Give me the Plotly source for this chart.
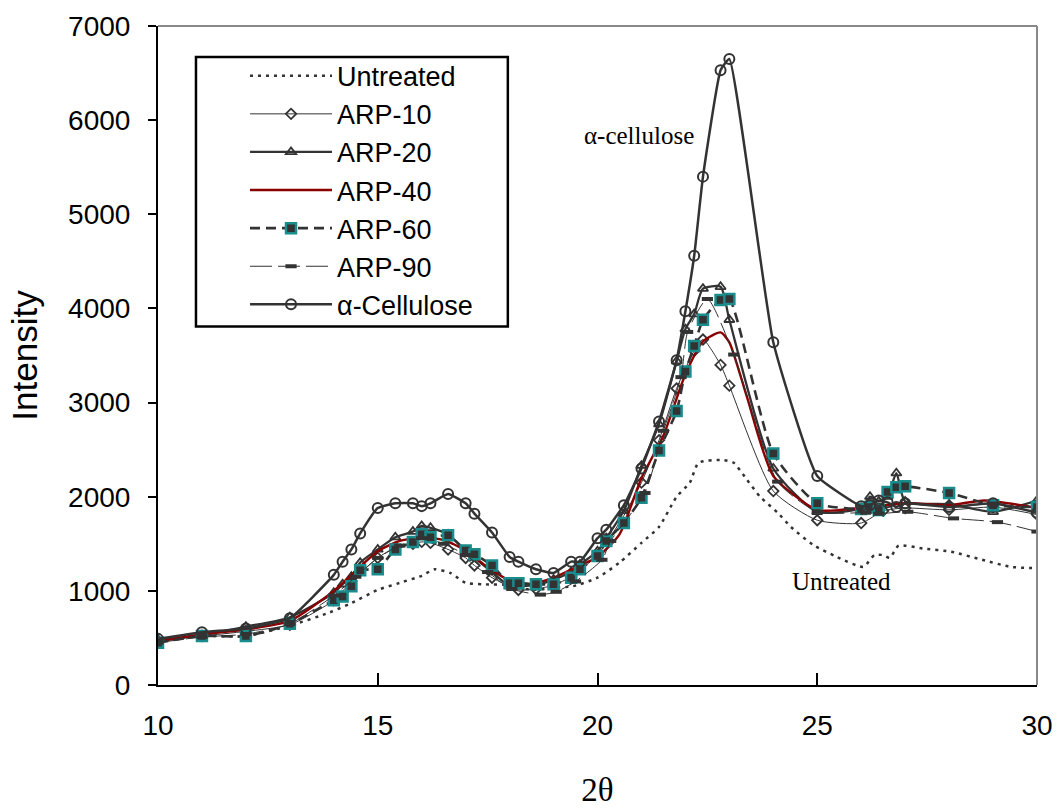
import plotly.graph_objects as go

# ---------------- data ----------------
untreated_x = [10, 11, 12, 13, 13.9, 14.4, 15, 15.5, 16, 16.3, 16.65, 17, 17.4, 18, 18.5, 19, 19.45, 20, 20.5, 21,
               21.4, 21.8, 22.1, 22.3, 22.85, 23.1, 23.4, 23.7, 24.1, 24.4, 24.9, 25.45, 26.05, 26.3, 26.5, 26.65,
               26.85, 27.4, 28.05, 28.75, 29.4, 30]
untreated_y = [470, 520, 520, 630, 770, 870, 1010, 1085, 1160, 1230, 1190, 1085, 1070, 1060, 1010, 1030, 1050, 1140,
               1300, 1510, 1680, 2000, 2150, 2360, 2390, 2360, 2180, 2000, 1830, 1680, 1490, 1360, 1255, 1380, 1380,
               1350, 1480, 1450, 1415, 1330, 1255, 1240]

arp10_x = [10, 11, 12, 13, 14, 14.4, 15, 15.4, 15.8, 16.0, 16.2, 16.6, 17.0, 17.2, 17.6, 18.2, 18.6, 19.0, 19.4, 20.0,
           20.6, 21.0, 21.4, 21.8, 22.2, 22.4, 22.8, 23.0, 24.0, 25.0, 26.0, 26.5, 27.0, 28.0, 29.0, 30.0]
arp10_y = [470, 520, 570, 640, 900, 1100, 1350, 1460, 1500, 1520, 1510, 1440, 1350, 1270, 1140, 1010, 1020, 1060, 1150,
           1380, 1800, 2150, 2600, 3150, 3550, 3670, 3400, 3180, 2060, 1750, 1720, 1850, 1880, 1860, 1890, 1810]

arp20_x = [10, 11, 12, 13, 14, 14.2, 14.4, 14.6, 15.0, 15.4, 15.8, 16.0, 16.2, 16.6, 17.0, 17.2, 17.6, 18.0, 18.2, 18.6,
           19.0, 19.4, 19.6, 20.0, 20.2, 20.6, 21.0, 21.4, 21.8, 22.0, 22.2, 22.4, 22.8, 23.0, 24.0, 25.0, 26.0, 26.2,
           26.4, 26.6, 26.8, 27.0, 28.0, 29.0, 30.0]
arp20_y = [480, 530, 620, 720, 980, 1070, 1150, 1300, 1440, 1570, 1630, 1690, 1670, 1600, 1430, 1350, 1200, 1050, 1050,
           1060, 1120, 1200, 1280, 1420, 1560, 1850, 2330, 2770, 3440, 3780, 3940, 4210, 4230, 3880, 2300, 1840, 1880,
           2000, 1950, 2000, 2250, 1950, 1920, 1840, 1960]

arp40_x = [10, 11, 12, 13, 14, 15, 15.5, 16, 16.5, 17, 17.5, 18, 18.5, 19, 19.5, 20, 20.5, 21, 21.5, 22, 22.4, 22.8,
           23.0, 23.4, 24, 25, 26, 27, 28, 28.8, 30]
arp40_y = [460, 540, 590, 680, 1000, 1420, 1530, 1570, 1540, 1430, 1250, 1110, 1075, 1140, 1250, 1360, 1600, 2200, 2650,
           3300, 3650, 3745, 3640, 3060, 2220, 1860, 1880, 1930, 1910, 1960, 1880]

arp60_x = [10, 11, 12, 13, 14, 14.2, 14.4, 14.6, 15, 15.4, 15.8, 16, 16.2, 16.6, 17, 17.2, 17.6, 18, 18.2, 18.6, 19,
           19.4, 19.6, 20, 20.2, 20.6, 21, 21.4, 21.8, 22, 22.2, 22.4, 22.8, 23, 24, 25, 26, 26.2, 26.4, 26.6, 26.8, 27,
           28, 29, 30]
arp60_y = [450, 520, 520, 650, 900, 940, 1050, 1220, 1230, 1440, 1520, 1600, 1570, 1590, 1430, 1390, 1270, 1080, 1080,
           1070, 1070, 1140, 1230, 1370, 1530, 1720, 1990, 2490, 2910, 3330, 3600, 3880, 4090, 4100, 2460, 1930, 1870,
           1890, 1860, 2050, 2100, 2110, 2040, 1910, 1890]

arp90_x = [10, 11, 12, 13, 14, 14.5, 15, 15.5, 16, 16.5, 17, 17.5, 18.05, 18.7, 19.06, 19.5, 20.1, 20.3, 21.08, 21.5,
           21.9, 22.05, 22.5, 23.1, 24.1, 25, 26.1, 26.4, 27.06, 28.1, 29.1, 30]
arp90_y = [450, 510, 540, 650, 950, 1150, 1350, 1480, 1560, 1500, 1380, 1200, 1020, 960, 990, 1100, 1330, 1530, 2040,
           2700, 3270, 3750, 4100, 3510, 2160, 1840, 1830, 1820, 1840, 1770, 1730, 1630]

cell_x = [10, 11, 12, 13, 14.0, 14.2, 14.4, 14.6, 15.0, 15.4, 15.8, 16.0, 16.2, 16.6, 17.0, 17.2, 17.6, 18.0, 18.2,
          18.6, 19.0, 19.4, 19.6, 20.0, 20.2, 20.6, 21.0, 21.4, 21.8, 22.0, 22.2, 22.4, 22.8, 23.0, 24.0, 25.0, 26.0,
          26.2, 26.4, 26.6, 26.8, 27.0, 28.0, 29.0, 30.0]
cell_y = [490, 560, 600, 710, 1170, 1310, 1440, 1610, 1880, 1930, 1930, 1900, 1930, 2030, 1930, 1820, 1620, 1360, 1310,
          1230, 1190, 1310, 1310, 1560, 1650, 1910, 2300, 2800, 3450, 3970, 4560, 5400, 6530, 6650, 3640, 2220, 1900,
          1910, 1960, 1940, 1890, 1930, 1890, 1930, 1830]

x_ticks = [10, 15, 20, 25, 30]
y_ticks = [0, 1000, 2000, 3000, 4000, 5000, 6000, 7000]

DARK = "#333333"
TEAL = "#1a8c8c"

fig = go.Figure()

def add(name, xs, ys, line, marker=None, smoothing=0.6):
    fig.add_trace(go.Scatter(
        x=xs, y=ys, name=name,
        mode="lines+markers" if marker else "lines",
        line=dict(shape="spline", smoothing=smoothing, **line),
        marker=marker or {},
    ))

add("Untreated", untreated_x, untreated_y, dict(color=DARK, width=2.5, dash="3px,5px"))
add("ARP-10", arp10_x, arp10_y, dict(color=DARK, width=1),
    dict(symbol="diamond-open", size=8, color=DARK, line=dict(width=1.8, color=DARK)))
add("ARP-20", arp20_x, arp20_y, dict(color=DARK, width=2.3),
    dict(symbol="triangle-up-open", size=9, color=DARK, line=dict(width=1.8, color=DARK)))
add("ARP-40", arp40_x, arp40_y, dict(color="#8b0000", width=2.4))
add("ARP-60", arp60_x, arp60_y, dict(color=DARK, width=2.6, dash="10px,6px"),
    dict(symbol="square", size=10, color=DARK, line=dict(width=2.5, color=TEAL)))
add("ARP-90", arp90_x, arp90_y, dict(color=DARK, width=1, dash="22px,6px"),
    dict(symbol="line-ew", size=8, color=DARK, line=dict(width=4, color=DARK)))
add("α-Cellulose", cell_x, cell_y, dict(color=DARK, width=2.5),
    dict(symbol="circle-open", size=10, color=DARK, line=dict(width=2, color=DARK)), smoothing=0.4)

fig.add_annotation(x=20.95, y=5840, text="α-cellulose", showarrow=False,
                   font=dict(family="Liberation Serif", size=25, color="black"))
fig.add_annotation(x=25.55, y=1095, text="Untreated", showarrow=False,
                   font=dict(family="Liberation Serif", size=25, color="black"))

# gray top and right frame lines
fig.add_shape(type="line", xref="paper", yref="paper", x0=0, x1=1, y0=1, y1=1,
              line=dict(color="#888888", width=2))
fig.add_shape(type="line", xref="paper", yref="paper", x0=1, x1=1, y0=0, y1=1,
              line=dict(color="#888888", width=2))
# legend box
fig.add_shape(type="rect", xref="paper", yref="paper", x0=0.0432, x1=0.398, y0=0.544, y1=0.953,
              line=dict(color="black", width=2.5), fillcolor="white", layer="above")

fig.update_layout(
    width=1059, height=809,
    margin=dict(l=158, r=22, t=26, b=124, autoexpand=False),
    paper_bgcolor="white", plot_bgcolor="white",
    font=dict(family="Liberation Sans", size=28, color="black"),
    showlegend=True,
    legend=dict(x=0.099, y=0.961, xanchor="left", yanchor="top",
                borderwidth=0, bgcolor="rgba(0,0,0,0)", itemwidth=82,
                font=dict(family="Liberation Sans", size=27, color="black")),
    xaxis=dict(range=[10, 30], tickvals=x_ticks, ticktext=[str(v) for v in x_ticks], automargin=False,
               showgrid=False, zeroline=False, showline=True, linecolor="black", linewidth=2,
               ticks="inside", ticklen=12, tickwidth=2, tickcolor="black", ticklabelstandoff=14,
               tickfont=dict(size=28, family="Liberation Sans"),
               title=dict(text="2θ", font=dict(family="Liberation Serif", size=33), standoff=38)),
    yaxis=dict(range=[0, 7000], tickvals=y_ticks, ticktext=[str(v) for v in y_ticks], automargin=False,
               showgrid=False, zeroline=False, showline=True, linecolor="black", linewidth=2,
               ticks="outside", ticklen=8, tickwidth=1.5, tickcolor="black", ticklabelstandoff=12,
               tickfont=dict(size=28, family="Liberation Sans"),
               title=dict(text="Intensity", font=dict(family="Liberation Sans", size=35), standoff=20)),
)

fig.write_html("out.html")
